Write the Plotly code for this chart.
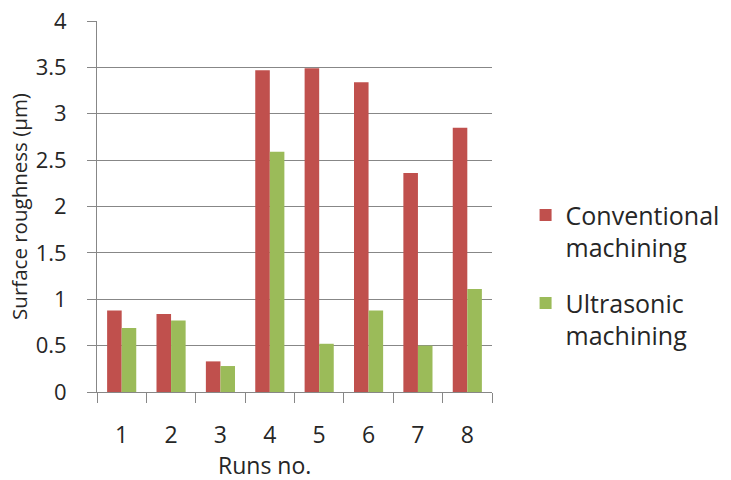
import plotly.graph_objects as go

runs = ["1", "2", "3", "4", "5", "6", "7", "8"]
conventional = [0.88, 0.84, 0.33, 3.47, 3.49, 3.34, 2.36, 2.85]
ultrasonic = [0.69, 0.77, 0.28, 2.59, 0.52, 0.88, 0.50, 1.11]
y_ticks = [0, 0.5, 1, 1.5, 2, 2.5, 3, 3.5, 4]
y_tick_text = ["0", "0.5", "1", "1.5", "2", "2.5", "3", "3.5", "4"]

FONT = "Open Sans"
TEXT = "#262626"
GRID = "#878787"

fig = go.Figure()
fig.add_trace(go.Bar(
    x=runs, y=conventional, name="Conventional<br>machining",
    marker=dict(color="#C0504D", line=dict(width=0)), legendgroup="a",
))
fig.add_trace(go.Bar(
    x=runs, y=ultrasonic, name="Ultrasonic<br>machining",
    marker=dict(color="#9BBB59", line=dict(width=0)), legendgroup="b",
))

fig.update_layout(
    width=731, height=480,
    margin=dict(l=97, r=239, t=21, b=88, autoexpand=False),
    paper_bgcolor="white", plot_bgcolor="white",
    barmode="group", bargap=0.41, bargroupgap=0,
    font=dict(family=FONT, color=TEXT),
    legend=dict(
        x=1.085, y=0.315, xanchor="left", yanchor="middle",
        valign="top", tracegroupgap=20,
        font=dict(size=25, family=FONT, color=TEXT),
        bgcolor="rgba(0,0,0,0)",
    ),
    xaxis=dict(
        type="category", showgrid=False,
        showline=True, linecolor=GRID, linewidth=1,
        ticks="outside", tickson="boundaries", ticklen=10, tickcolor=GRID,
        ticklabelstandoff=22,
        tickfont=dict(size=23, family=FONT, color=TEXT),
    ),
    yaxis=dict(
        range=[0, 4], tickvals=y_ticks, ticktext=y_tick_text,
        showgrid=True, gridcolor=GRID, gridwidth=1,
        showline=True, linecolor=GRID, linewidth=1,
        ticks="outside", ticklen=9, tickcolor=GRID,
        ticklabelstandoff=16,
        tickfont=dict(size=22, family=FONT, color=TEXT),
        zeroline=False,
        title=dict(text="Surface roughness (µm)", standoff=2,
                   font=dict(size=20.5, family=FONT, color=TEXT)),
    ),
    annotations=[dict(
        text="Runs no.", xref="paper", yref="paper",
        x=(264 - 97) / 395, y=-(465 - 392) / 371,
        xanchor="center", yanchor="middle", showarrow=False,
        font=dict(size=23, family=FONT, color=TEXT),
    )],
)

fig.write_html("out.html")
